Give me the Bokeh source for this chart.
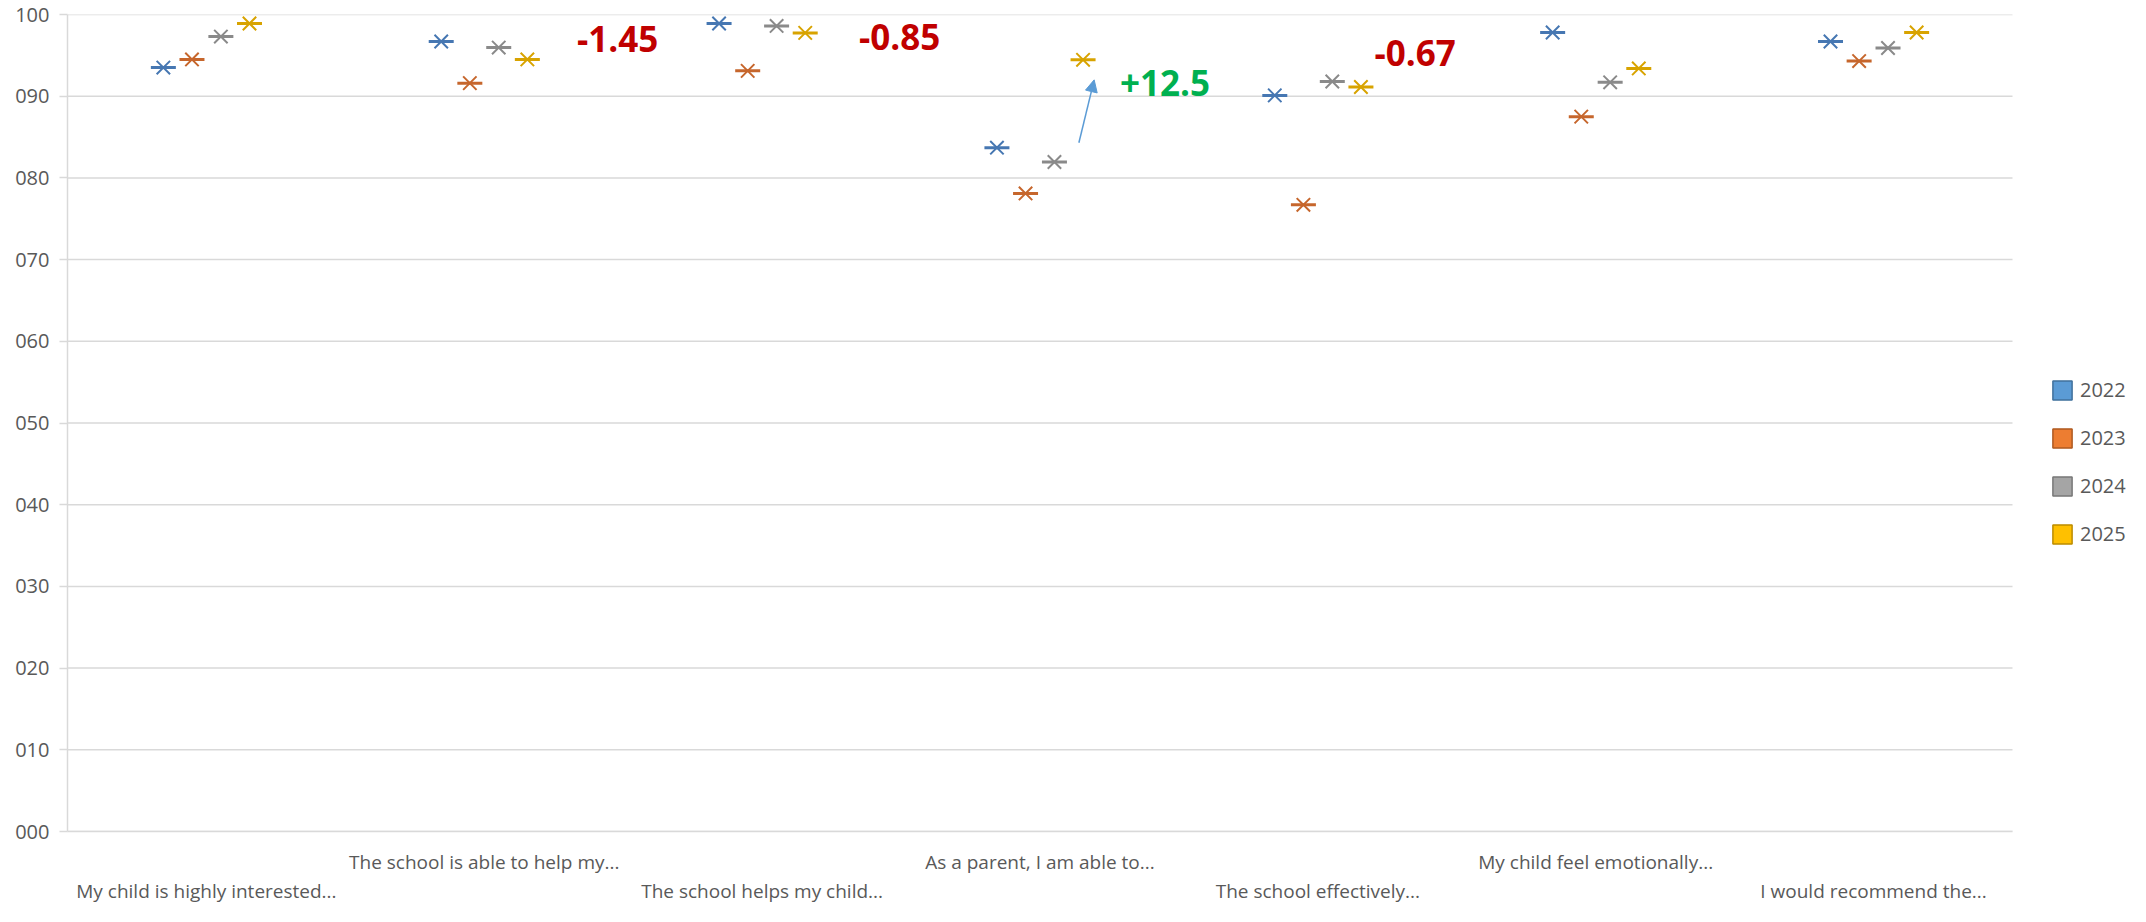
import numpy as np
from bokeh.plotting import figure
from bokeh.models import (Range1d, LinearAxis, FixedTicker, PrintfTickFormatter, Legend,
                          LegendItem, ColumnDataSource, Arrow, NormalHead)
from bokeh.transform import dodge
from bokeh.core.properties import value
from bokeh.embed import file_html
from bokeh.resources import INLINE

# ---------------- data ----------------
categories = [
    "My child is highly interested...",
    "The school is able to help my...",
    "The school helps my child...",
    "As a parent, I am able to...",
    "The school effectively...",
    "My child feel emotionally...",
    "I would recommend the...",
]
years = ["2022", "2023", "2024", "2025"]
s2022 = [93.5, 96.7, 98.9, 83.7, 90.1, 97.8, 96.7]
s2023 = [94.5, 91.6, 93.1, 78.1, 76.7, 87.5, 94.3]
s2024 = [97.3, 95.95, 98.6, 81.95, 91.8, 91.7, 95.9]
s2025 = [98.9, 94.5, 97.75, 94.45, 91.13, 93.4, 97.8]
series = [s2022, s2023, s2024, s2025]

ann_text = ["-1.45", "-0.85", "+12.5", "-0.67"]
ann_x = [1.98, 2.995, 3.95, 4.85]
ann_y = [97.0, 97.2, 91.6, 95.3]

y_ticks = [0, 10, 20, 30, 40, 50, 60, 70, 80, 90, 100]

# ---------------- styles / layout ----------------
marker_colors = ["#4677b2", "#c6662c", "#8a8a8a", "#d8a300"]
swatch_fill = ["#5B9BD5", "#ED7D31", "#A5A5A5", "#FFC000"]
swatch_line = ["#41719C", "#AE5A21", "#787878", "#BC8C00"]
ann_colors = ["#C00000", "#C00000", "#00B050", "#C00000"]
offsets = [-0.155, -0.052, 0.052, 0.155]
grid_col = "#D9D9D9"
text_col = "#595959"
FONT = "Open Sans"

W, H = 2130, 906
LEFT = 67          # frame left (px)
PLOT_RIGHT = 2012  # where the category area ends (px)
n = len(categories)
# extend the x range past the categories so the legend can sit inside the frame
x_end = n * (W - LEFT) / (PLOT_RIGHT - LEFT)

p = figure(width=W, height=H, output_backend="svg", toolbar_location=None,
           x_range=Range1d(0, x_end), y_range=Range1d(0, 100),
           x_axis_type=None, y_axis_type=None,
           min_border_left=LEFT, min_border_right=0, min_border_top=14, min_border_bottom=0)
p.outline_line_color = None
p.background_fill_color = "white"
p.border_fill_color = "white"
p.xgrid.visible = False
p.ygrid.visible = False

# gridlines only across the category area
p.segment(x0=0, x1=n, y0=y_ticks, y1=y_ticks, line_color=grid_col, line_width=1.5)

# y axis
yax = LinearAxis(ticker=FixedTicker(ticks=y_ticks), formatter=PrintfTickFormatter(format="%03d"))
yax.axis_line_color = grid_col
yax.axis_line_width = 1.5
yax.major_tick_line_color = grid_col
yax.major_tick_line_width = 1.5
yax.major_tick_out = 8
yax.major_tick_in = 0
yax.minor_tick_line_color = None
yax.major_label_standoff = 10
yax.major_label_text_font = FONT
yax.major_label_text_font_size = "20px"
yax.major_label_text_color = text_col
p.add_layout(yax, "left")

# staggered category axes
centers = [i + 0.5 for i in range(n)]
upper = [c for i, c in enumerate(centers) if i % 2 == 1]
lower = [c for i, c in enumerate(centers) if i % 2 == 0]
ax1 = LinearAxis(ticker=FixedTicker(ticks=upper), bounds=(0, n),
                 major_label_overrides={c: categories[i] for i, c in enumerate(centers) if i % 2 == 1})
ax2 = LinearAxis(ticker=FixedTicker(ticks=lower), bounds=(0, n),
                 major_label_overrides={c: categories[i] for i, c in enumerate(centers) if i % 2 == 0})
for ax, st in ((ax1, 17), (ax2, 0)):
    ax.major_tick_line_color = None
    ax.major_tick_out = 0
    ax.major_tick_in = 0
    ax.minor_tick_line_color = None
    ax.minor_tick_out = 0
    ax.major_label_standoff = st
    ax.major_label_text_font = FONT
    ax.major_label_text_font_size = "19px"
    ax.major_label_text_color = text_col
ax1.axis_line_color = grid_col
ax1.axis_line_width = 1.5
ax2.axis_line_color = None
p.add_layout(ax1, "below")
p.add_layout(ax2, "below")

# markers
src = ColumnDataSource(data=dict(x=centers, **{y: s for y, s in zip(years, series)}))
for yr, col, off in zip(years, marker_colors, offsets):
    xx = dodge("x", off, range=p.x_range)
    p.scatter(x=xx, y=yr, source=src, marker="x", size=19, line_color=col, line_width=2)
    p.scatter(x=xx, y=yr, source=src, marker="dash", size=25, line_color=col, line_width=3)

# annotation texts
asrc = ColumnDataSource(data=dict(x=ann_x, y=ann_y, t=ann_text, c=ann_colors))
p.text(x="x", y="y", text="t", source=asrc, text_color="c", text_align="center",
       text_baseline="middle", text_font=value(FONT), text_font_style="bold",
       text_font_size="35px")

p.add_layout(Arrow(x_start=3.64, y_start=84.3, x_end=3.695, y_end=92.0,
                   line_color="#5B9BD5", line_width=1.5,
                   end=NormalHead(size=12, fill_color="#5B9BD5", line_color="#5B9BD5")))

# legend with square swatches (legend-only proxy renderers)
items = []
for yr, f, l in zip(years, swatch_fill, swatch_line):
    r = p.quad(left=[np.nan], right=[np.nan], top=[np.nan], bottom=[np.nan],
               fill_color=f, line_color=l, line_width=1.5)
    items.append(LegendItem(label=yr, renderers=[r]))
leg = Legend(items=items, location=(1983, 284), orientation="vertical")
leg.border_line_color = None
leg.background_fill_alpha = 0
leg.padding = 0
leg.margin = 0
leg.glyph_width = 24
leg.glyph_height = 24
leg.label_height = 19
leg.spacing = 21
leg.label_standoff = 6
leg.label_text_font = FONT
leg.label_text_font_size = "20px"
leg.label_text_color = text_col
p.add_layout(leg, "center")

open("out.html", "w").write(file_html(p, INLINE))
